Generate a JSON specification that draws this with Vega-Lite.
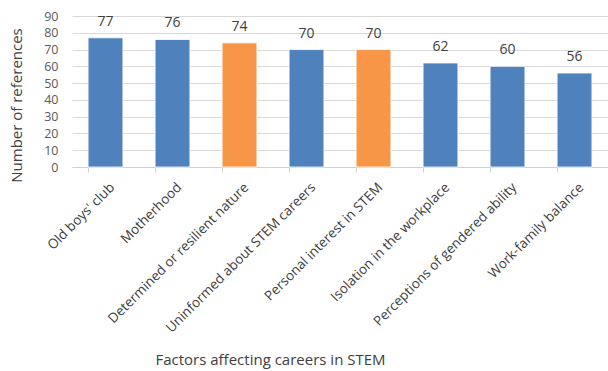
{
  "$schema": "https://vega.github.io/schema/vega-lite/v6.json",
  "autosize": "none",
  "width": 536,
  "height": 151,
  "padding": {"left": 72, "top": 16, "right": 0, "bottom": 204},
  "background": "white",
  "config": {"view": {"stroke": null}, "font": "Open Sans"},
  "data": {"values": [
    {"factor": "Old boys' club", "refs": 77, "group": "a"},
    {"factor": "Motherhood", "refs": 76, "group": "a"},
    {"factor": "Determined or resilient nature", "refs": 74, "group": "b"},
    {"factor": "Uninformed about STEM careers", "refs": 70, "group": "a"},
    {"factor": "Personal interest in STEM", "refs": 70, "group": "b"},
    {"factor": "Isolation in the workplace", "refs": 62, "group": "a"},
    {"factor": "Perceptions of gendered ability", "refs": 60, "group": "a"},
    {"factor": "Work-family balance", "refs": 56, "group": "a"}
  ]},
  "encoding": {
    "x": {"field": "factor", "type": "nominal", "sort": null,
      "scale": {"paddingInner": 0.48, "paddingOuter": 0.24},
      "axis": {"title": "Factors affecting careers in STEM", "titleFont": "Open Sans", "titleFontSize": 15, "titleFontWeight": "normal", "titleColor": "#404040",
        "titleX": 198, "titleY": 197, "titleBaseline": "alphabetic",
        "labelAngle": -45, "labelFontSize": 13.5, "labelColor": "#404040", "labelPadding": 8, "labelOffset": 2, "labelLimit": 400,
        "domainColor": "#d0d0d0", "tickColor": "#d0d0d0", "tickSize": 5, "bandPosition": 0, "grid": false}},
    "y": {"field": "refs", "type": "quantitative",
      "scale": {"domain": [0, 90]},
      "axis": {"title": "Number of references", "titleFont": "Open Sans", "titleFontSize": 15, "titleFontWeight": "normal", "titleColor": "#404040",
        "titleX": -48, "titleY": 89, "titleAlign": "center",
        "values": [0,10,20,30,40,50,60,70,80,90], "labelFontSize": 12.5, "labelColor": "#595959", "labelPadding": 14,
        "domain": false, "ticks": false, "gridColor": "#d9d9d9", "gridWidth": 1.2}}
  },
  "layer": [
    {"mark": {"type": "bar", "stroke": "#ffffff", "strokeWidth": 0.8},
     "encoding": {"color": {"field": "group", "type": "nominal", "legend": null,
       "scale": {"domain": ["a", "b"], "range": ["#4f81bd", "#f79646"]}}}},
    {"mark": {"type": "text", "dy": -9, "baseline": "bottom", "fontSize": 14, "color": "#404040"},
     "encoding": {"text": {"field": "refs", "type": "quantitative"}}}
  ]
}
